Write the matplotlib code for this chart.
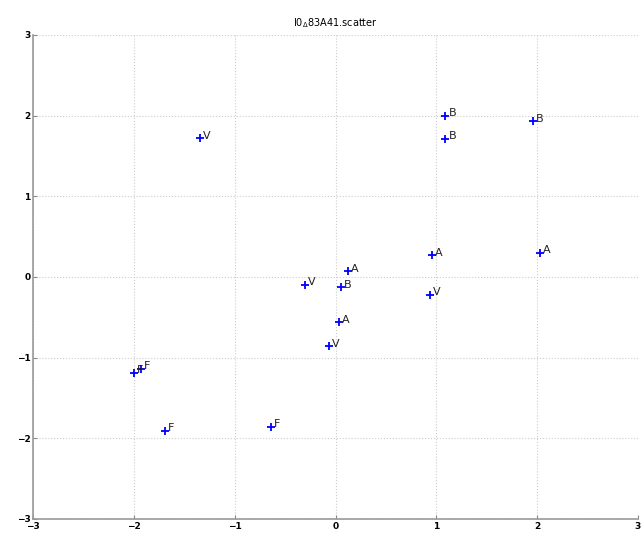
import numpy as np
from matplotlib import pyplot as plt

# scatter positions and their labels
xs = [-1.35, 1.09, 1.09, 1.96, 0.96, 2.03, 0.12, -0.30, 0.05, 0.94, 0.03, -0.07, -2.00, -1.93, -1.69, -0.64]
ys = [1.72, 2.00, 1.71, 1.93, 0.27, 0.30, 0.07, -0.10, -0.13, -0.22, -0.56, -0.86, -1.19, -1.14, -1.91, -1.86]
labels = ['V', 'B', 'B', 'B', 'A', 'A', 'A', 'V', 'B', 'V', 'A', 'V', 'F', 'F', 'F', 'F']
ticks = [-3, -2, -1, 0, 1, 2, 3]

fig = plt.figure(figsize=(6.41, 5.36), dpi=100)
ax = fig.add_axes([0.052, 0.032, 0.943, 0.903])

ax.plot(xs, ys, '+', color='blue', markersize=6, markeredgewidth=1.3)
for x, y, s in zip(xs, ys, labels):
    ax.text(x + 0.03, y + 0.03, s, fontsize=8, color='#222222', va='center', ha='left')

ax.set_xlim(-3, 3)
ax.set_ylim(-3, 3)
ax.set_xticks(ticks)
ax.set_yticks(ticks)
ax.set_xticklabels([str(t).replace('-', '\u2212') for t in ticks], fontsize=6.5, fontweight='bold')
ax.set_yticklabels([str(t).replace('-', '\u2212') for t in ticks], fontsize=6.5, fontweight='bold')
ax.tick_params(direction='in', length=3, color='#888888', pad=2)
ax.grid(True, linestyle=':', color='#cccccc', linewidth=0.8)
for side in ['top', 'right']:
    ax.spines[side].set_visible(False)
for side in ['left', 'bottom']:
    ax.spines[side].set_color('#999999')
    ax.spines[side].set_linewidth(1.2)

ax.set_title(r'I0$_{\Delta}$83A41.scatter', fontsize=7, pad=6)

fig.savefig('out.png', dpi=100)
